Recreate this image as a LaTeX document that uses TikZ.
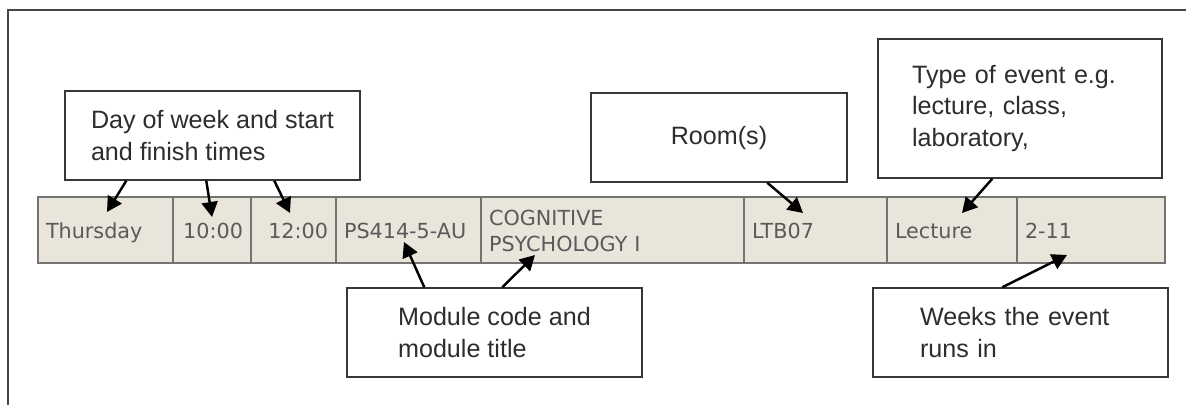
\documentclass[tikz,border=0pt]{standalone}
\usepackage{fontspec}
\setmainfont{Liberation Sans}
\newfontfamily\cellfont{DejaVu Sans}
\usetikzlibrary{calc,arrows.meta}
\definecolor{cellfill}{RGB}{234,229,219}
\definecolor{cellline}{RGB}{115,115,115}
\definecolor{celltext}{RGB}{90,90,90}
\definecolor{boxline}{RGB}{55,55,55}
\definecolor{boxtext}{RGB}{45,45,45}
\definecolor{frameline}{RGB}{70,70,70}
\newcommand\cellstrut{\rule[-2.6pt]{0pt}{15pt}}
\tikzset{
  cell/.style={draw=cellline, line width=0.8pt, fill=cellfill, text=celltext,
    font=\cellfont\fontsize{11.8}{14.7}\selectfont, inner xsep=1.6mm, inner ysep=0pt,
    minimum height=13.2mm, align=left},
  cellr/.style={cell, align=right},
  callout/.style={draw=boxline, line width=0.85pt, fill=white, text=boxtext,
    font=\fontsize{14.3}{18.1}\selectfont, minimum height=17.8mm, inner ysep=0pt},
  arr/.style={draw=black, line width=1.4pt, -{Triangle[length=3mm,width=3.2mm]}},
}
\begin{document}
\begin{tikzpicture}[x=0.02cm,y=-0.02cm]
\useasboundingbox (0,0) rectangle (1186,405);
% frame
\draw[frameline, line width=1.1pt] (8,405) -- (8,10) -- (1186,10);
% table cells
\node[cell, text width=23.8mm] (c1) at (105.5,230) {\cellstrut Thursday};
\node[cellr, text width=12.4mm] (c2) at (212,230) {\cellstrut 10:00};
\node[cellr, text width=13.8mm] (c3) at (293.5,230) {\cellstrut 12:00};
\node[cell, text width=25.8mm] (c4) at (408.5,230) {\cellstrut\mbox{PS414-5-AU}};
\node[cell, text width=49.4mm] (c5) at (612.5,230) {\cellstrut COGNITIVE\\PSYCHOLOGY I\rule[-2.6pt]{0pt}{1pt}};
\node[cell, text width=25.4mm] (c6) at (815.5,230) {\cellstrut LTB07};
\node[cell, text width=22.8mm] (c7) at (952,230) {\cellstrut Lecture};
\node[cell, text width=26.4mm] (c8) at (1091,230) {\cellstrut 2-11};
% callouts
\node[callout, minimum width=59mm, inner xsep=0pt, align=left] (day) at (212.5,135.5)
  {Day of week and start\\and finish times};
\node[callout, minimum width=51.2mm, align=center] (room) at (719,137.5) {Room(s)};
\node[callout, minimum height=27.8mm, text width=43.2mm, inner xsep=6.8mm, align=left] (type) at (1020,108.5)
  {Type of event e.g.\\lecture, class,\\laboratory,};
\node[callout, minimum width=59mm, inner xsep=0pt, align=left] (module) at (494.5,332.5)
  {Module code and\\module title};
\node[callout, text width=40.2mm, inner xsep=9.4mm, align=left] (weeks) at (1020.5,332.5)
  {Weeks the event\\runs in};
% arrow tips
\coordinate (t1) at (107,212);
\coordinate (t2) at (212,217);
\coordinate (t3) at (290,213);
\coordinate (troom) at (803,213);
\coordinate (ttype) at (962,213);
\coordinate (tmod1) at (404,242);
\coordinate (tmod2) at (535,255);
\coordinate (tweeks) at (1067,255);
% arrows
\draw[arr] ($(day.south west)+(62,0)$) -- (t1);
\draw[arr] ($(day.south west)+(142,0)$) -- (t2);
\draw[arr] ($(day.south west)+(210,0)$) -- (t3);
\draw[arr] ($(room.south west)+(177,0)$) -- (troom);
\draw[arr] ($(type.south west)+(115,0)$) -- (ttype);
\draw[arr] ($(module.north west)+(78,0)$) -- (tmod1);
\draw[arr] ($(module.north west)+(156,0)$) -- (tmod2);
\draw[arr] ($(weeks.north west)+(130,0)$) -- (tweeks);
\end{tikzpicture}
\end{document}
